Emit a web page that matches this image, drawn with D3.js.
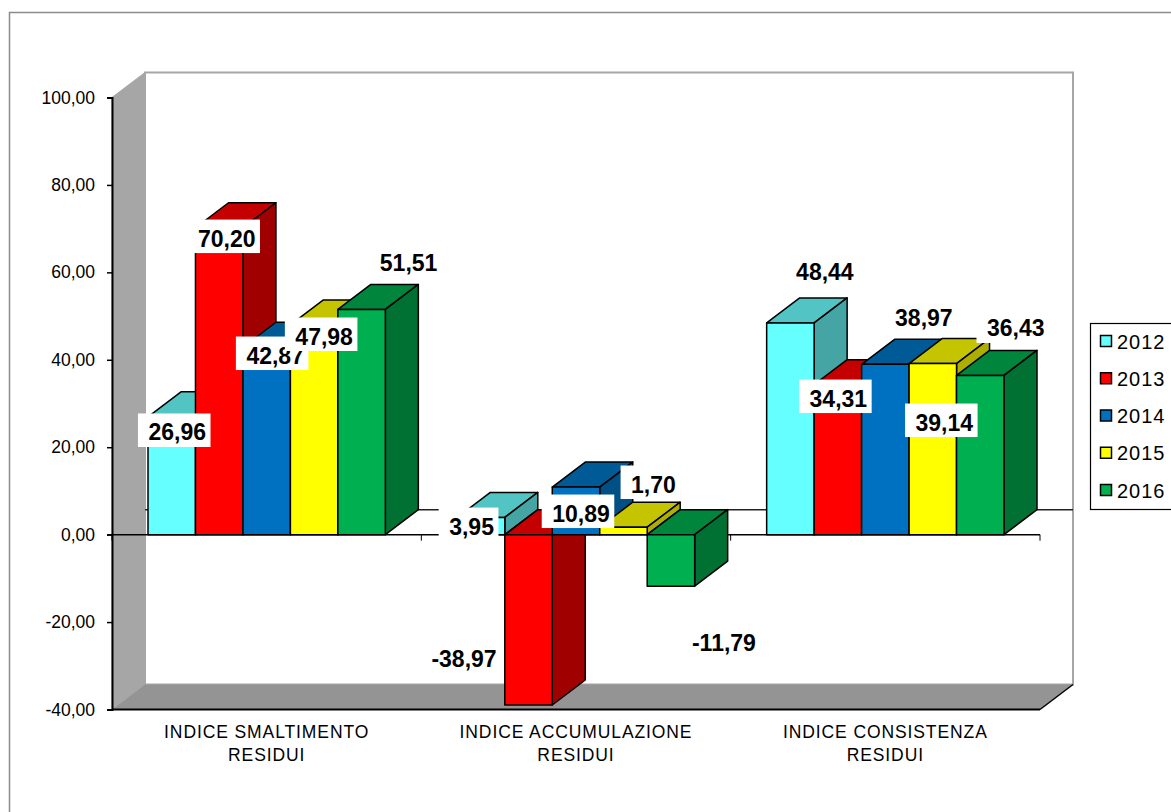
<!DOCTYPE html>
<html>
<head>
<meta charset="utf-8">
<script src="https://cdn.jsdelivr.net/npm/d3@7"></script>
<style>
  html, body { margin: 0; padding: 0; background: #fff; overflow: hidden; }
  svg { display: block; font-family: "Liberation Sans", Arial, sans-serif; }
</style>
</head>
<body>
<svg id="chart" width="1171" height="812"></svg>
<script>
// Chart values
const categories = [
  ["INDICE SMALTIMENTO", "RESIDUI"],
  ["INDICE ACCUMULAZIONE", "RESIDUI"],
  ["INDICE CONSISTENZA", "RESIDUI"],
];
const years = ["2012", "2013", "2014", "2015", "2016"];
const values2012 = [26.96, 3.95, 48.44];
const values2013 = [70.2, -38.97, 34.31];
const values2014 = [42.87, 10.89, 38.97];
const values2015 = [47.98, 1.7, 39.14];
const values2016 = [51.51, -11.79, 36.43];
const yTicks = [-40, -20, 0, 20, 40, 60, 80, 100];

const seriesValues = [values2012, values2013, values2014, values2015, values2016];

// Face colours per year: front, top, side
const frontColors = ["#66ffff", "#ff0000", "#0070c0", "#ffff00", "#00b050"];
const topColors = ["#52c4c4", "#c40000", "#005a96", "#c4c400", "#00853c"];
const sideColors = ["#45a5a5", "#a00000", "#004f85", "#aeae00", "#007033"];

// Hand placed label offsets from the bar's value point, [year][category]
const labelNudge = [
  [[5.5, 15.2], [-9.5, 8.7], [34.5, -50.9]],
  [[7.5, 10.3], [-64.5, -46.9], [0.5, 13.4]],
  [[8.5, 7.8], [5, 26], [38.5, -46.3]],
  [[10, 11.1], [30, -43.2], [11.5, 58.5]],
  [[47, -46.5], [53, 55.9], [35.5, -47.4]],
];

const svg = d3.select("#chart");

// Plot box and the fake 3D depth
const plotLeft = 112;
const plotRight = 1040;
const plotTop = 97.5;
const plotBottom = 709.5;
const depthX = 33;
const depthY = 25;
const barGap = 36;

const yScale = d3.scaleLinear().domain([-40, 100]).range([plotBottom, plotTop]);
const xScale = d3
  .scaleBand()
  .domain(d3.range(categories.length))
  .range([plotLeft, plotRight]);
const barScale = d3
  .scaleBand()
  .domain(d3.range(years.length))
  .range([barGap, xScale.bandwidth() - barGap]);

const poly = (pts) => pts.map((p) => p.join(",")).join(" ");
const formatValue = (v) => d3.format(".2f")(v).replace(".", ",").replace("−", "-");

// Outer frame, only top and left edges are in the picture
svg.append("path")
  .attr("d", "M9.5,812V12.5H1171")
  .attr("fill", "none")
  .attr("stroke", "#8c8c8c")
  .attr("stroke-width", 1.5);

// Back wall, left wall and floor
const walls = svg.append("g");
walls.append("polygon")
  .attr("points", poly([[plotLeft + depthX, plotTop - depthY], [plotRight + depthX, plotTop - depthY], [plotRight + depthX, plotBottom - depthY], [plotLeft + depthX, plotBottom - depthY]]))
  .attr("fill", "#fff")
  .attr("stroke", "#a6a6a6")
  .attr("stroke-width", 2);
walls.append("polygon")
  .attr("points", poly([[plotLeft, plotTop], [plotLeft + depthX, plotTop - depthY], [plotLeft + depthX, plotBottom - depthY], [plotLeft, plotBottom]]))
  .attr("fill", "#a6a6a6")
  .attr("stroke", "#a6a6a6");
walls.append("polygon")
  .attr("points", poly([[plotLeft, plotBottom], [plotLeft + depthX, plotBottom - depthY], [plotRight + depthX, plotBottom - depthY], [plotRight, plotBottom]]))
  .attr("fill", "#949494");
walls.append("path")
  .attr("d", `M${plotRight},${plotBottom}L${plotRight + depthX},${plotBottom - depthY}`)
  .attr("stroke", "#000")
  .attr("stroke-width", 1.5);

// Zero plane line on the back wall
svg.append("line")
  .attr("x1", plotLeft + depthX)
  .attr("x2", plotRight + depthX)
  .attr("y1", yScale(0) - depthY)
  .attr("y2", yScale(0) - depthY)
  .attr("stroke", "#222")
  .attr("stroke-width", 1.5);

// Value axis
const yAxis = svg
  .append("g")
  .attr("transform", `translate(${plotLeft},0)`)
  .call(
    d3.axisLeft(yScale)
      .tickValues(yTicks)
      .tickSize(5)
      .tickPadding(12)
      .tickFormat(formatValue)
  );
yAxis.select(".domain").attr("stroke", "#000").attr("stroke-width", 2);
yAxis.selectAll(".tick line").attr("stroke", "#000").attr("stroke-width", 1.5);
yAxis.selectAll("text")
  .attr("font-family", '"Liberation Sans", Arial, sans-serif')
  .attr("font-size", 17.5)
  .attr("fill", "#000");

// Floor edge and the zero line with category ticks
svg.append("line")
  .attr("x1", plotLeft)
  .attr("x2", plotRight)
  .attr("y1", plotBottom)
  .attr("y2", plotBottom)
  .attr("stroke", "#000")
  .attr("stroke-width", 2);
svg.append("line")
  .attr("x1", plotLeft - 5)
  .attr("x2", plotRight)
  .attr("y1", yScale(0))
  .attr("y2", yScale(0))
  .attr("stroke", "#000")
  .attr("stroke-width", 1.5);
const boundaries = d3.range(categories.length + 1).map((i) => plotLeft + i * xScale.bandwidth());
svg.selectAll(".cat-tick")
  .data(boundaries)
  .join("line")
  .attr("class", "cat-tick")
  .attr("x1", (d) => d)
  .attr("x2", (d) => d)
  .attr("y1", yScale(0))
  .attr("y2", yScale(0) + 6)
  .attr("stroke", "#000");

// Category labels
const catLabels = svg
  .selectAll(".cat-label")
  .data(categories)
  .join("text")
  .attr("class", "cat-label")
  .attr("text-anchor", "middle")
  .attr("font-size", 17.5)
  .attr("letter-spacing", 0.9)
  .attr("fill", "#000");
catLabels
  .selectAll("tspan")
  .data((d, i) => d.map((line) => ({ line, i })))
  .join("tspan")
  .attr("x", (d) => xScale(d.i) + xScale.bandwidth() / 2)
  .attr("y", (d, j) => 738 + j * 23)
  .text((d) => d.line);

// Bars, left to right so that each one overlaps the previous
const barsLayer = svg.append("g");
categories.forEach(function (cat, c) {
  years.forEach(function (year, s) {
    const v = seriesValues[s][c];
    const x0 = xScale(c) + barScale(s);
    const x1 = x0 + barScale.bandwidth();
    const yTop = yScale(Math.max(v, 0));
    const yBot = yScale(Math.min(v, 0));
    const bar = barsLayer
      .append("g")
      .attr("stroke", "#000")
      .attr("stroke-width", 1.5)
      .attr("stroke-linejoin", "round");
    bar.append("polygon")
      .attr("fill", topColors[s])
      .attr("points", poly([[x0, yTop], [x0 + depthX, yTop - depthY], [x1 + depthX, yTop - depthY], [x1, yTop]]));
    bar.append("polygon")
      .attr("fill", sideColors[s])
      .attr("points", poly([[x1, yTop], [x1 + depthX, yTop - depthY], [x1 + depthX, yBot - depthY], [x1, yBot]]));
    bar.append("rect")
      .attr("fill", frontColors[s])
      .attr("x", x0)
      .attr("y", yTop)
      .attr("width", x1 - x0)
      .attr("height", yBot - yTop);
  });
});

// Data labels on white boxes, by series so later boxes hide earlier text
const labelsLayer = svg.append("g");
years.forEach(function (year, s) {
  categories.forEach(function (cat, c) {
    const v = seriesValues[s][c];
    const cx = xScale(c) + barScale(s) + barScale.bandwidth() / 2 + labelNudge[s][c][0];
    const cy = yScale(v) + labelNudge[s][c][1];
    const g = labelsLayer.append("g");
    const box = g.append("rect").attr("fill", "#fff");
    const label = g.append("text")
      .attr("x", cx)
      .attr("y", cy + 8.5)
      .attr("text-anchor", "middle")
      .attr("font-size", 23)
      .attr("font-weight", "bold")
      .attr("fill", "#000")
      .text(formatValue(v));
    const w = label.node().getComputedTextLength() + 15;
    box.attr("x", cx - 3 - w / 2)
      .attr("y", cy - 18.5)
      .attr("width", w)
      .attr("height", 33.5);
  });
});

// Legend, its box runs off the right edge of the picture
const legend = svg.append("g");
legend.append("rect")
  .attr("x", 1090.5)
  .attr("y", 323.5)
  .attr("width", 100)
  .attr("height", 186)
  .attr("fill", "#fff")
  .attr("stroke", "#000")
  .attr("stroke-width", 1.2);
const legendY = d3.scalePoint().domain(years).range([341, 490]);
years.forEach(function (year, s) {
  legend.append("rect")
    .attr("x", 1100.5)
    .attr("y", legendY(year) - 5.5)
    .attr("width", 11)
    .attr("height", 11)
    .attr("fill", frontColors[s])
    .attr("stroke", "#000")
    .attr("stroke-width", 1.5);
  legend.append("text")
    .attr("x", 1117)
    .attr("y", legendY(year) + 7.5)
    .attr("font-size", 20)
    .attr("letter-spacing", 1)
    .attr("fill", "#000")
    .text(year);
});
</script>
</body>
</html>
